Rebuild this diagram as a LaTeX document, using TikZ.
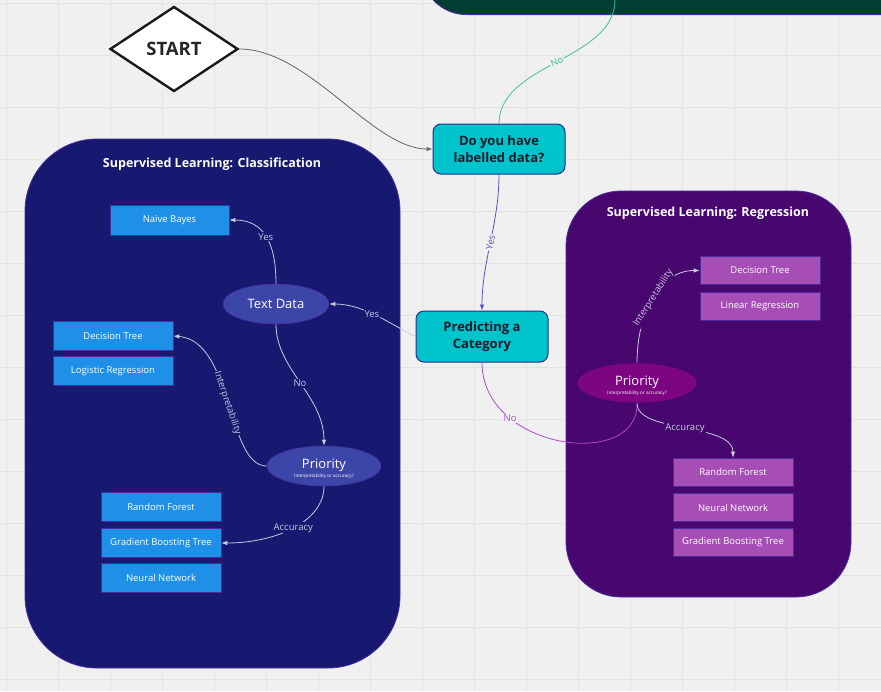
\documentclass[tikz,border=0pt]{standalone}
\usepackage{fontspec}
\setmainfont{Open Sans}
\usetikzlibrary{shapes.geometric,arrows.meta}
\definecolor{bg}{HTML}{F0F0F0}
\definecolor{gridc}{HTML}{E3E3E3}
\definecolor{tealtop}{HTML}{003D35}
\definecolor{cyanbox}{HTML}{00C4CC}
\definecolor{cyanborder}{HTML}{2B2A8C}
\definecolor{clsbg}{HTML}{17186F}
\definecolor{clsborder}{HTML}{4A2C9E}
\definecolor{bluebox}{HTML}{1E90E8}
\definecolor{ellblue}{HTML}{3C46A8}
\definecolor{regbg}{HTML}{48066F}
\definecolor{regbox}{HTML}{A64DB6}
\definecolor{ellpurple}{HTML}{7E0582}
\definecolor{linec}{HTML}{CACAE0}
\definecolor{noteal}{HTML}{3FBFA0}
\definecolor{yesblue}{HTML}{5552C2}
\definecolor{nopurple}{HTML}{B048C8}
\definecolor{darktext}{HTML}{1A1A2A}
\newcommand{\fsz}[1]{\fontsize{#1}{#1}\selectfont}
\tikzset{
  container/.style={draw=clsborder, line width=0.8pt, minimum width=#1},
  titletext/.style={text=white, font=\bfseries\fsz{12.5}},
  cyannode/.style={draw=cyanborder, line width=1pt, fill=cyanbox, rounded corners=8pt,
    minimum width=132pt, minimum height=51pt, align=center, text=darktext,
    font=\bfseries\fontsize{13}{17.5}\selectfont, inner sep=0pt},
  bluenode/.style={draw=clsborder, line width=0.6pt, fill=bluebox, minimum width=120pt,
    minimum height=29pt, text=white, font=\fsz{9.5}, inner sep=0pt},
  purplenode/.style={draw=clsborder, line width=0.6pt, fill=regbox, minimum width=120pt,
    minimum height=28pt, text=white, font=\fsz{9.5}, inner sep=0pt},
  ellnode/.style={ellipse, draw=#1, line width=0.6pt, inner sep=0pt, text=white, font=\fsz{13}},
  conn/.style={draw=linec, line width=0.8pt, -{Latex[length=6pt,width=4.5pt]}},
  lab/.style={text=linec, font=\fsz{9.5}, inner sep=1pt},
  smalltext/.style={text=white, font=\fsz{4.6}, inner sep=0pt},
}
\begin{document}
\begin{tikzpicture}[x=1pt,y=-1pt]
\useasboundingbox (0,0) rectangle (881,691);
\clip (0,0) rectangle (881,691);
\fill[bg] (0,0) rectangle (881,691);
\foreach \gx in {6,58,...,880} \draw[gridc, line width=0.8pt] (\gx,0) -- (\gx,691);
\foreach \gy in {3,55,...,690} \draw[gridc, line width=0.8pt] (0,\gy) -- (881,\gy);

% top teal block
\node[draw=clsborder, line width=0.8pt, fill=tealtop, rounded corners=45pt, minimum width=560pt,
  minimum height=120pt, anchor=south west, inner sep=0pt] (nobox) at (421,15) {};
\coordinate (noend) at (615,0);

% containers
\node[container=375pt, fill=clsbg, minimum height=529pt, rounded corners=72pt] (cls) at (212.5,403.5) {};
\node[container=285pt, fill=regbg, minimum height=406pt, rounded corners=55pt] (reg) at (708.5,394) {};
\node[titletext] (clstitle) at (212,164) {Supervised Learning: Classification};
\node[titletext] (regtitle) at (708,213) {Supervised Learning: Regression};

% start
\node[diamond, draw=black!90, line width=2.4pt, fill=white, minimum width=128pt, minimum height=85pt,
  inner sep=0pt, font=\bfseries\fsz{18.5}, text=black!85] (start) at (174,49) {START};

% decision boxes
\node[cyannode, minimum height=50pt] (q1) at (499,149) {Do you have\\labelled data?};
\node[cyannode] (p) at (482,336.5) {Predicting a\\Category};

% classification nodes
\node[bluenode, minimum width=119pt, minimum height=30pt] (nb) at (169.5,220) {Naive Bayes};
\node[bluenode] (dtc) at (113,336) {Decision Tree};
\node[bluenode] (lrc) at (113,371) {Logistic Regression};
\node[bluenode] (rfc) at (161,507) {Random Forest};
\node[bluenode] (gbc) at (161,543) {Gradient Boosting Tree};
\node[bluenode] (nnc) at (161,578) {Neural Network};
\node[ellnode=clsborder, fill=ellblue, minimum width=106pt, minimum height=40pt] (td) at (276,304) {Text Data};
\node[ellnode=clsborder, fill=ellblue, minimum width=114pt, minimum height=40pt] (pc) at (324,466) {};
\node[text=white, font=\fsz{13}, inner sep=0pt] (pct) at (324,465) {Priority};
\node[smalltext] (pcs) at (324,476) {Interpretability or accuracy?};

% regression nodes
\node[purplenode] (dtr) at (760,270.5) {Decision Tree};
\node[purplenode] (lnr) at (760,306) {Linear Regression};
\node[purplenode] (rfr) at (733,472) {Random Forest};
\node[purplenode] (nnr) at (733,507.5) {Neural Network};
\node[purplenode] (gbr) at (733,542.5) {Gradient Boosting Tree};
\node[ellnode=regbg, fill=ellpurple, minimum width=120pt, minimum height=40pt] (rp) at (637,383) {};
\node[text=white, font=\fsz{13}, inner sep=0pt] (rpt) at (637,382) {Priority};
\node[smalltext] (rps) at (637,393) {Interpretability or accuracy?};

% main flow connectors
\draw[draw=black!60, line width=0.8pt, -{Latex[length=6pt,width=4.5pt]}]
  (start.east) .. controls +(70,0) and +(-60,0) .. (q1.west);
\draw[draw=noteal, line width=0.8pt] (q1.north) .. controls +(0,-60) and +(0,60) .. (noend)
  node[pos=0.5, sloped, fill=bg, text=noteal, font=\fsz{9.5}, inner sep=1pt] {No};
\draw[draw=yesblue, line width=0.8pt, -{Latex[length=6pt,width=4.5pt]}]
  (q1.south) .. controls +(0,50) and +(0,-50) .. (p.north)
  node[pos=0.5, sloped, fill=bg, text=yesblue, font=\fsz{9.5}, inner sep=1pt] {Yes};
\draw[conn] (p.west) .. controls +(-25,-12) and +(35,0) .. (td.east)
  node[lab, pos=0.55, fill=clsbg] {Yes};
\draw[draw=nopurple, line width=0.8pt] (p.south) .. controls +(0,88) and +(2,67) .. (rp.south)
  node[pos=0.27, fill=bg, text=nopurple, font=\fsz{9.5}, inner sep=1pt] {No};

% classification connectors
\draw[conn] (td.north) .. controls +(0,-40) and +(35,0) .. (nb.east)
  node[lab, pos=0.5, fill=clsbg] {Yes};
\draw[conn] (td.south) .. controls +(0,45) and +(0,-50) .. (pc.north)
  node[lab, pos=0.5, fill=clsbg] {No};
\draw[conn] (pc.west) .. controls +(-40,0) and +(60,5) .. (dtc.east)
  node[lab, pos=0.5, sloped, fill=clsbg] {Interpretability};
\draw[conn] (pc.south) .. controls +(0,35) and +(55,0) .. (gbc.east)
  node[lab, pos=0.5, fill=clsbg] {Accuracy};

% regression connectors
\draw[conn] (rp.north) .. controls +(0,-50) and +(-40,0) .. (dtr.west)
  node[lab, pos=0.5, sloped, fill=regbg] {Interpretability};
\draw[conn] (rp.south) .. controls +(0,30) and +(0,-35) .. (rfr.north)
  node[lab, pos=0.5, fill=regbg] {Accuracy};
\end{tikzpicture}
\end{document}
